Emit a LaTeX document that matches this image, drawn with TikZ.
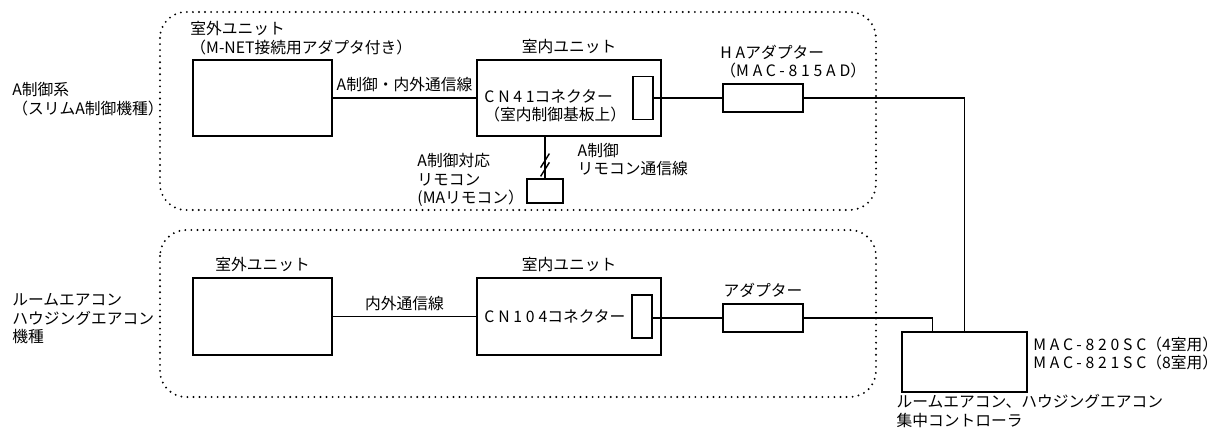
\documentclass[tikz,border=0pt]{standalone}
\usepackage{fontspec}
\setmainfont{Noto Sans CJK JP}
\newfontfamily\wideft[LetterSpace=24]{Noto Sans CJK JP}
\usetikzlibrary{positioning,calc}
\tikzset{
  % plain unit box, size given in pixels of the sketch
  box/.style 2 args = {rectangle, draw, line width=1.15pt, inner sep=0pt,
                       minimum width=#1*0.025cm, minimum height=#2*0.025cm},
  wire/.style = {line width=1pt},
  grp/.style  = {line width=1.5pt, dash pattern=on 0pt off 4.3pt, line cap=round,
                 rounded corners=0.65cm},
  lbl/.style  = {font=\fontsize{11.2}{13.2}\selectfont, inner sep=0pt, align=left},
}
\newcommand{\widetxt}[1]{{\wideft #1}}

\begin{document}
\begin{tikzpicture}[x=0.025cm,y=-0.025cm]
\useasboundingbox (0,0) rectangle (1219,430);
% system groups
\draw[grp] (160,12) rectangle (876,210);
\draw[grp] (160,230) rectangle (876,397);
\node[lbl, anchor=west] (sysA) at (12,99) {A制御系\\（スリムA制御機種）};
\node[lbl, anchor=west] (sysB) at (12,319) {ルームエアコン\\ハウジングエアコン\\機種};
% A control system
\node[box={139}{76}] (outA) at (262.5,98) {};
\node[box={184}{76}] (inA) at (569,98) {};
\node[box={20}{43}] (cnA) at (643,98) {};
\node[box={80}{28}] (haA) at (763,98) {};
\node[box={36}{24}] (rc) at (545,191) {};
\node[lbl, anchor=south west] (outAlbl) at ([xshift=-0.05cm, yshift=0.1cm]outA.north west) {室外ユニット\\（M-NET接続用アダプタ付き）};
\node[lbl, above=1.3mm of inA] (inAlbl) {室内ユニット};
\node[lbl, anchor=west] (cnAlbl) at ([xshift=0.2cm, yshift=-0.2cm]inA.west) {\widetxt{CN41}コネクター\\（室内制御基板上）};
\node[lbl, anchor=south west] (haAlbl) at ([xshift=-0.05cm, yshift=0.12cm]haA.north west) {\widetxt{HA}アダプター\\（\widetxt{MAC-815AD}）};
\node[lbl, anchor=east] (rclbl) at ([xshift=-0.05cm, yshift=0.27cm]rc.west) {A制御対応\\リモコン\\(MAリモコン）};
\coordinate (slash) at ($(rc.north)!0.45!(rc.north |- inA.south)$);
\draw[wire] (outA) -- (inA) node[lbl, midway, above=1.3mm] (lineA) {A制御・内外通信線};
\draw[wire] (cnA) -- (haA);
\draw[wire] (rc.north) -- (rc.north |- inA.south)
  node[lbl, anchor=west, pos=0.45, xshift=0.8cm] (rclinelbl) {A制御\\リモコン通信線};
\draw[wire] ([xshift=-0.11cm, yshift=-0.2cm]slash) -- ([xshift=0.11cm, yshift=0.15cm]slash);
\draw[wire] ([xshift=-0.11cm, yshift=-0.42cm]slash) -- ([xshift=0.11cm, yshift=-0.07cm]slash);
% room / housing air conditioners
\node[box={139}{77}] (outB) at (262.5,316.5) {};
\node[box={184}{77}] (inB) at (569,316.5) {};
\node[box={20}{43}] (cnB) at (642,316.5) {};
\node[box={80}{28}] (adB) at (763,318) {};
\node[lbl, above=1.3mm of outB] (outBlbl) {室外ユニット};
\node[lbl, above=1.3mm of inB] (inBlbl) {室内ユニット};
\node[lbl, anchor=west] (cnBlbl) at ([xshift=0.2cm]inB.west) {\widetxt{CN104}コネクター};
\node[lbl, above=1.3mm of adB] (adBlbl) {アダプター};
\draw[wire] (outB) -- (inB) node[lbl, midway, above=1.3mm] (lineB) {内外通信線};
\draw[wire] (cnB.east |- adB) -- (adB);
% central controller
\node[box={125}{60}] (ctrl) at (964.5,362) {};
\node[lbl, anchor=north west] (ctrllbl) at ([xshift=0.13cm, yshift=-0.13cm]ctrl.north east)
  {\widetxt{MAC-820SC}（\widetxt{4}室用）\\\widetxt{MAC-821SC}（\widetxt{8}室用）};
\node[lbl, anchor=north west] (ctrlname) at ([xshift=-0.12cm, yshift=-0.04cm]ctrl.south west)
  {ルームエアコン、ハウジングエアコン\\集中コントローラ};
\coordinate (ctrlB) at ([xshift=0.78cm]ctrl.north west);
\draw[wire] (haA) -| (ctrl.north);
\draw[wire] (adB) -| (ctrlB);
\end{tikzpicture}
\end{document}
